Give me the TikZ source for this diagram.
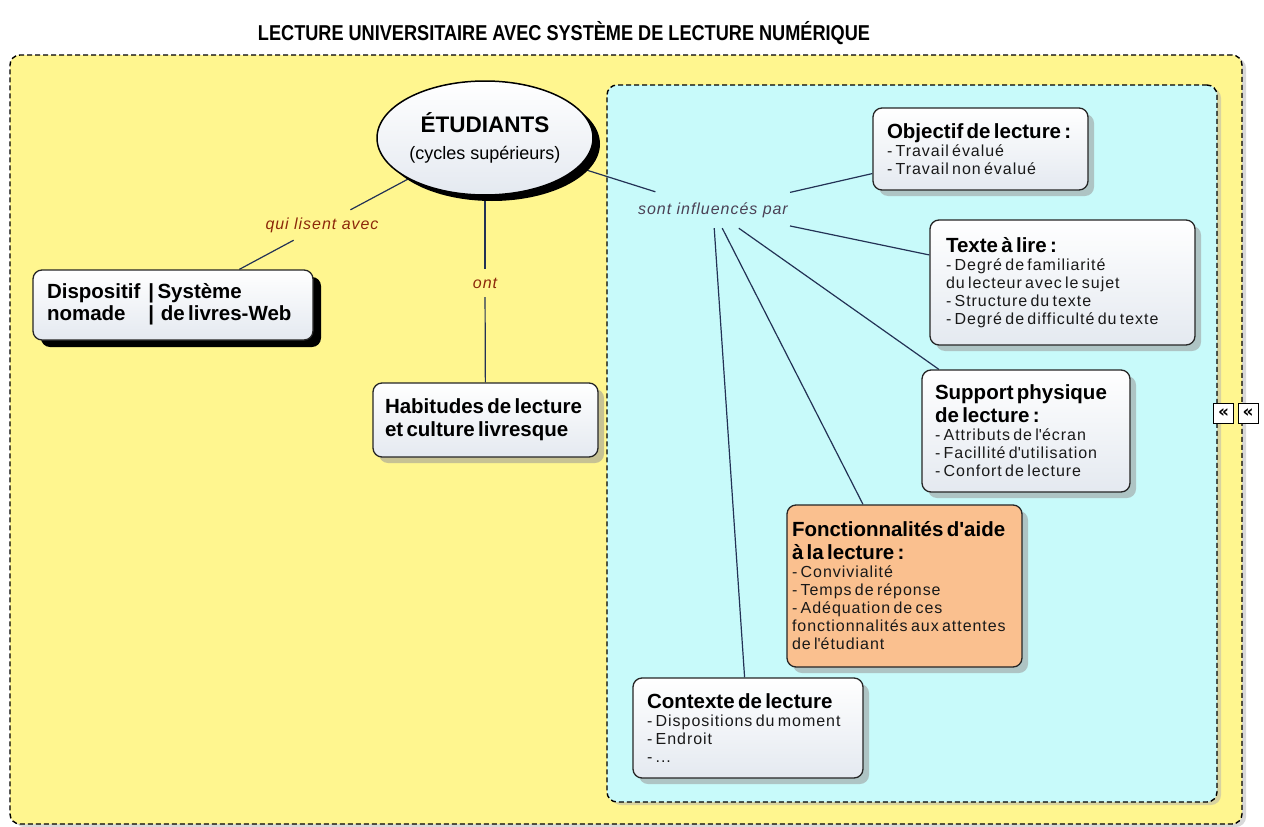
\documentclass[tikz,border=0pt]{standalone}
\usepackage{fontspec}
\usepackage{graphicx}
\setmainfont{Liberation Sans}
\newfontfamily\itemfont[LetterSpace=6]{Liberation Sans}
\newfontfamily\symfont{DejaVu Sans}
\usetikzlibrary{shapes.geometric,shadows}
\definecolor{bgyellow}{RGB}{255,246,143}
\definecolor{bgcyan}{RGB}{200,250,250}
\definecolor{boxorange}{RGB}{250,192,143}
\definecolor{linecol}{RGB}{35,50,85}
\definecolor{labred}{RGB}{140,40,10}
\definecolor{labgray}{RGB}{75,65,85}
\definecolor{boxfill}{RGB}{228,233,240}
\newcommand\BoxTitle{\fontsize{20.5}{23}\selectfont\bfseries}
\newcommand\BoxItem{\itemfont\fontsize{16}{18}\selectfont\color{black!90}}
\newcommand\q{\textquotesingle}
\pgfdeclarelayer{back}
\pgfdeclarelayer{mid}
\pgfsetlayers{back,mid,main}
\begin{document}
\begin{tikzpicture}[x=1pt,y=-1pt,
  container/.style={draw=black, dashed, dash pattern=on 5pt off 3pt, line width=1.4pt,
    rounded corners=10pt, inner sep=0pt,
    drop shadow={fill=gray!60, opacity=0.5, shadow xshift=4pt, shadow yshift=-3pt}},
  box/.style={draw=black!85, line width=1.3pt, rounded corners=9pt, top color=white,
    bottom color=boxfill, align=left, inner xsep=14pt, inner ysep=0pt,
    drop shadow={fill=gray!80, opacity=0.55, shadow xshift=6pt, shadow yshift=-6pt}},
  hardbox/.style={draw=black!85, line width=1.3pt, rounded corners=9pt, top color=white,
    bottom color=boxfill, align=left, inner xsep=14pt, inner ysep=0pt,
    drop shadow={fill=black, opacity=1, shadow xshift=8pt, shadow yshift=-7pt}},
  conn/.style={draw=linecol, line width=1.2pt},
  lab/.style={inner xsep=2pt, inner ysep=0pt, font=\itemfont\itshape\fontsize{16}{18}\selectfont},
  icon/.style={draw=black, fill=white, line width=1pt, minimum size=20pt, inner sep=0pt,
    font=\symfont\bfseries\fontsize{17}{17}\selectfont}
]
\begin{pgfonlayer}{back}
\fill[white] (0,0) rectangle (1264,827);
\end{pgfonlayer}
\useasboundingbox (0,0) rectangle (1264,827);

\node[inner sep=0pt] (title) at (564,33)
  {\resizebox{612pt}{\height}{\fontsize{21.5}{21.5}\selectfont\bfseries LECTURE UNIVERSITAIRE AVEC SYSTÈME DE LECTURE NUMÉRIQUE}};

\begin{pgfonlayer}{back}
\node[container, fill=bgyellow, minimum width=1232pt, minimum height=769pt] (outer) at (626,439.5) {};
\node[container, fill=bgcyan, minimum width=610pt, minimum height=717pt] (inner) at (912,443.5) {};
\end{pgfonlayer}

\node[icon] (iconin) at (1223.5,413.5) {«};
\node[icon] (iconout) at (1248,413.5) {«};

% students ellipse
\node[ellipse, draw=black, line width=1.5pt, top color=white, bottom color=boxfill,
  minimum width=216pt, minimum height=114pt, inner sep=0pt, align=center,
  font=\fontsize{18}{27}\selectfont,
  drop shadow={fill=black, opacity=1, shadow xshift=7pt, shadow yshift=-6pt}] (etu) at (485,138)
  {{\fontsize{22.5}{24}\selectfont\bfseries ÉTUDIANTS}\\(cycles supérieurs)};

% left boxes
\node[hardbox, minimum width=280pt, minimum height=70pt, text width=252pt] (disp) at (173,305)
  {\BoxTitle\begin{tabular}{@{}l@{\hspace{8pt}}l@{}}Dispositif & |\,Système\\[-1pt] nomade & |\, de livres-Web\end{tabular}};
\node[box, minimum width=225pt, minimum height=74pt, text width=201pt, inner xsep=12pt] (hab) at (485.5,420)
  {{\BoxTitle Habitudes de lecture\\et culture livresque\par}};

% right boxes
\node[box, minimum width=215pt, minimum height=82pt, text width=187pt] (obj) at (980.5,149)
  {{\BoxTitle Objectif de lecture :\par}{\BoxItem - Travail évalué\\- Travail non évalué\par}};
\node[box, minimum width=261pt, minimum height=125pt, text width=233pt, inner xsep=16pt] (txt) at (1062.5,282.5)
  {{\BoxTitle Texte à lire :\par}{\BoxItem - Degré de familiarité\\du lecteur avec le sujet\\- Structure du texte\\- Degré de difficulté du texte\par}};
\node[box, minimum width=208pt, minimum height=122pt, text width=182pt, inner xsep=13pt] (sup) at (1026,431)
  {{\BoxTitle Support physique\\de lecture :\par}{\BoxItem - Attributs de l\q écran\\- Facillité d\q utilisation\\- Confort de lecture\par}};
\node[box, top color=boxorange, bottom color=boxorange, minimum width=235pt, minimum height=162pt,
  text width=225pt, inner xsep=5pt] (fon) at (904.5,586)
  {{\BoxTitle Fonctionnalités d\q aide\\à la lecture :\par}{\BoxItem - Convivialité\\- Temps de réponse\\- Adéquation de ces\\fonctionnalités aux attentes\\de l\q étudiant\par}};
\node[box, minimum width=230pt, minimum height=100pt, text width=202pt] (ctx) at (748,728)
  {{\BoxTitle Contexte de lecture\par}{\BoxItem - Dispositions du moment\\- Endroit\\- ...\par}\vspace{8pt}};

% link labels
\node[lab, text=labred, minimum height=30pt] (qui) at (322,225) {qui lisent avec};
\node[lab, text=labred, minimum height=28pt] (ont) at (485,283) {ont};
\node[lab, text=labgray, minimum height=36pt] (inf) at (713,210) {sont influencés par};

\begin{pgfonlayer}{mid}
\draw[conn] (etu) -- (qui);
\draw[conn] (qui) -- (disp);
\draw[conn] (etu) -- (ont);
\draw[conn] (ont) -- (hab);
\draw[conn] (etu) -- (inf);
\draw[conn] (inf) -- (obj);
\draw[conn] (inf) -- (txt);
\draw[conn] (inf) -- (sup);
\draw[conn] (inf) -- (fon);
\draw[conn] (inf) -- (ctx);
\end{pgfonlayer}
\end{tikzpicture}
\end{document}
